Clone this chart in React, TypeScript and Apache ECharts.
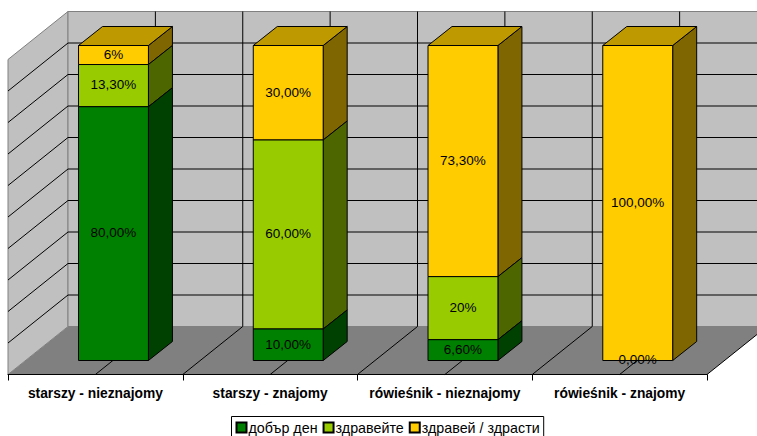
import React, { useEffect, useRef } from "react";
import * as echarts from "echarts";

const categories = ["starszy - nieznajomy", "starszy - znajomy", "rówieśnik - nieznajomy", "rówieśnik - znajomy"];
const seriesNames = ["добър ден", "здравейте", "здравей / здрасти"];
const dobryDen = [80, 10, 6.6, 0];
const zdraveyte = [13.3, 60, 20, null];
const zdravey = [6, 30, 73.3, 100];
const dobryDenLabels = ["80,00%", "10,00%", "6,60%", "0,00%"];
const zdraveyteLabels = ["13,30%", "60,00%", "20%", ""];
const zdraveyLabels = ["6%", "30,00%", "73,30%", "100,00%"];
const valueTicks = [0, 10, 20, 30, 40, 50, 60, 70, 80, 90, 100];

const allValues = [dobryDen, zdraveyte, zdravey];
const allLabels = [dobryDenLabels, zdraveyteLabels, zdraveyLabels];
const frontColors = ["#008000", "#99CC00", "#FFCC00"];
const sideColors = ["#004000", "#4D6600", "#806600"];
const topColors = ["#006000", "#739900", "#BF9900"];

const WALL_DX = 60;
const WALL_DY = -48;
const BAR_OFF_DX = 18.1;
const BAR_OFF_DY = -14;
const BAR_DX = 24;
const BAR_DY = -19;
const BAR_RATIO = 0.4;
const LABEL_DY = -0.75;

const lineStyle = (stroke: string) => ({ stroke, lineWidth: 1, fill: "none" });

function renderWalls(_params: any, api: any) {
  const band = api.size([1, 0])[0];
  const [c0, y0] = api.coord([0, 0]);
  const x0 = c0 - band / 2;
  const x1 = x0 + band * categories.length;
  const [, yTop] = api.coord([0, 100]);
  const children: any[] = [];
  const half = band / 2;
  children.push({
    type: "polygon",
    shape: { points: [[x0, y0], [x0 + WALL_DX, y0 + WALL_DY], [x1 + WALL_DX, y0 + WALL_DY], [x1, y0]] },
    style: { fill: "#808080", stroke: "none" },
  });
  children.push({
    type: "polygon",
    shape: { points: [[x0, yTop], [x0 + WALL_DX, yTop + WALL_DY], [x0 + WALL_DX, y0 + WALL_DY], [x0, y0]] },
    style: { fill: "#C0C0C0", stroke: "#808080", lineWidth: 1 },
  });
  children.push({
    type: "rect",
    shape: { x: x0 + WALL_DX, y: yTop + WALL_DY, width: x1 - x0, height: y0 - yTop },
    style: { fill: "#C0C0C0", stroke: "#808080", lineWidth: 1 },
  });
  valueTicks.forEach((t) => {
    if (t === 0 || t === 100) return;
    const [, y] = api.coord([0, t]);
    children.push({
      type: "polyline",
      shape: { points: [[x0, y], [x0 + WALL_DX, y + WALL_DY], [x1 + WALL_DX, y + WALL_DY]] },
      style: lineStyle("#000"),
    });
  });
  for (let k = 1; k <= categories.length * 2; k++) {
    const x = x0 + half * k;
    children.push({
      type: "polyline",
      shape: { points: [[x, y0], [x + WALL_DX, y0 + WALL_DY], [x + WALL_DX, yTop + WALL_DY]] },
      style: lineStyle("#000"),
    });
  }
  return { type: "group", children };
}

function makeBarRenderer(seriesIndex: number) {
  return (_params: any, api: any) => {
    const cat = api.value(0);
    const raw = api.value(1);
    const label = allLabels[seriesIndex][cat];
    const total = allValues.reduce((s, arr) => s + (arr[cat] ?? 0), 0);
    let base = 0;
    for (let i = 0; i < seriesIndex; i++) base += allValues[i][cat] ?? 0;
    const startPct = (base / total) * 100;
    const endPct = ((base + (isNaN(raw) ? 0 : raw)) / total) * 100;
    const [cx, yA] = api.coord([cat, startPct]);
    const [, yB] = api.coord([cat, endPct]);
    const w = api.size([1, 0])[0] * BAR_RATIO;
    const xL = cx - w / 2 + BAR_OFF_DX;
    const xR = xL + w;
    const yBottom = yA + BAR_OFF_DY;
    const yTop = yB + BAR_OFF_DY;
    const outline = { stroke: "#000", lineWidth: 1 };
    const children: any[] = [];
    if (yBottom - yTop > 0.01) {
      children.push({
        type: "polygon",
        shape: { points: [[xR, yBottom], [xR + BAR_DX, yBottom + BAR_DY], [xR + BAR_DX, yTop + BAR_DY], [xR, yTop]] },
        style: { fill: sideColors[seriesIndex], ...outline },
      });
      children.push({
        type: "rect",
        shape: { x: xL, y: yTop, width: w, height: yBottom - yTop },
        style: { fill: frontColors[seriesIndex], ...outline },
      });
      if (endPct > 99.99) {
        children.push({
          type: "polygon",
          shape: { points: [[xL, yTop], [xL + BAR_DX, yTop + BAR_DY], [xR + BAR_DX, yTop + BAR_DY], [xR, yTop]] },
          style: { fill: topColors[seriesIndex], ...outline },
        });
      }
    }
    if (label) {
      children.push({
        type: "text",
        z2: 100,
        style: {
          x: (xL + xR) / 2,
          y: (yTop + yBottom) / 2 + LABEL_DY,
          text: label,
          fill: "#000",
          align: "center",
          verticalAlign: "middle",
          font: "13.5px 'Liberation Sans', Arial, sans-serif",
        },
      });
    }
    return { type: "group", children };
  };
}

export default function App() {
  const ref = useRef<HTMLDivElement>(null);
  useEffect(() => {
    const chart = echarts.init(ref.current!, null, { renderer: "svg" });
    chart.setOption({
      animation: false,
      backgroundColor: "#fff",
      grid: { left: 8, top: 59.5, width: 699, height: 315, containLabel: false },
      xAxis: {
        type: "category",
        z: 20,
        data: categories,
        axisLine: { show: true, lineStyle: { color: "#000", width: 1 } },
        axisTick: { show: true, length: 6, lineStyle: { color: "#000", width: 1 } },
        axisLabel: {
          color: "#000",
          interval: 0,
          fontFamily: "'Liberation Sans', Arial, sans-serif",
          fontWeight: "bold",
          fontSize: 13.8,
          margin: 12,
        },
      },
      yAxis: { type: "value", min: 0, max: 100, interval: 10, show: false },
      legend: {
        data: seriesNames.map((name) => ({ name })),
        left: 231.5,
        top: 416.5,
        orient: "horizontal",
        itemWidth: 10,
        itemHeight: 10,
        itemGap: 5,
        padding: [4, 4, 4, 4],
        borderColor: "#000",
        borderWidth: 1,
        backgroundColor: "#fff",
        textStyle: {
          color: "#000",
          fontSize: 14.3,
          fontFamily: "'Liberation Sans', Arial, sans-serif",
          padding: [0, 0, 0, -3],
        },
        icon: "rect",
      },
      series: [
        {
          type: "custom",
          name: "walls",
          silent: true,
          z: 1,
          renderItem: renderWalls,
          data: [[0, 0]],
          encode: { x: 0, y: 1 },
        },
        ...seriesNames.map((name, i) => ({
          type: "custom",
          name,
          z: 5 - i,
          renderItem: makeBarRenderer(i),
          itemStyle: { color: frontColors[i], borderColor: "#000", borderWidth: 1 },
          data: allValues[i].map((v, c) => [c, v]),
          encode: { x: 0, y: 1 },
        })),
      ],
    });
    return () => chart.dispose();
  }, []);
  return <div ref={ref} style={{ position: "absolute", left: 0, top: 0, width: 757, height: 436 }} />;
}
